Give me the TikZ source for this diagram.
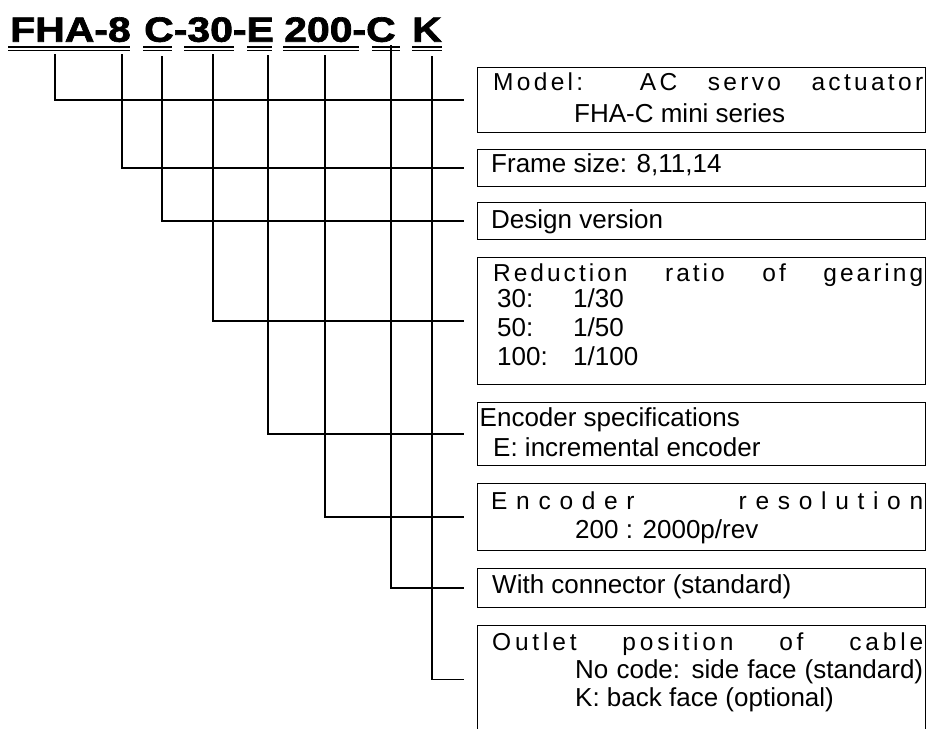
\documentclass[tikz,border=0pt]{standalone}
\usepackage{fontspec}
\setmainfont{Liberation Sans}
\newfontfamily\titlefont[FakeBold=1.8]{Liberation Sans}
\newcommand{\bodyfont}{\fontsize{26}{28.5}\selectfont}
\newdimen\lsk
\def\lsword#1{\lswordi#1\relax\unkern}
\def\lswordi#1{\ifx\relax#1\else#1\kern\lsk\expandafter\lswordi\fi}
\newcommand{\codetxt}[1]{\scalebox{1.17}[1]{\titlefont\bfseries\fontsize{35}{35}\selectfont #1}}
\begin{document}
\begin{tikzpicture}[x=1pt,y=-1pt,
  box/.style={draw=black,line width=1.2pt,fill=none,inner sep=0pt,anchor=north west,minimum width=448pt},
  txt/.style={inner sep=0pt,anchor=base west,font=\bodyfont},
  code/.style={inner sep=0pt,anchor=base west},
  conn/.style={line width=1.5pt,line cap=rect},
  ul/.style={line width=1.7pt}]
\useasboundingbox (0,0) rectangle (928,728);
\clip (0,0) rectangle (928,728);
\fill[white] (0,0) rectangle (928,728);

% title code
\node[code] (t1) at (10,41.7) {\codetxt{FHA-8}};
\node[code] (t2) at (144,41.7) {\codetxt{C-30-E}};
\node[code] (t3) at (284,41.7) {\codetxt{200-C}};
\node[code] (t4) at (412,41.7) {\codetxt{K}};
\foreach \a/\b in {8.3/130,143/172,184/234,247/272,283/359,372/400,412/442}{
  \draw[ul] (\a,47) -- (\b,47);
  \draw[ul] (\a,50.4) -- (\b,50.4);
}

% boxes
\node[box,minimum height=65pt] (b1) at (477,67) {};
\node[box,minimum height=37pt] (b2) at (477,149) {};
\node[box,minimum height=37pt] (b3) at (477,202) {};
\node[box,minimum height=127pt] (b4) at (477,257) {};
\node[box,minimum height=63pt] (b5) at (477,402) {};
\node[box,minimum height=67pt] (b6) at (477,483) {};
\node[box,minimum height=39pt] (b7) at (477,568) {};
\node[box,minimum height=108pt] (b8) at (477,625) {};

% texts
\node[txt] (m1) at (493,90) {\makebox[430pt][s]{\fontsize{24.5}{24.5}\selectfont\lsk=3.3pt
  \lsword{Model:} \lsword{AC} \lsword{servo} \lsword{actuator}}};
\node[txt] (m2) at (574,122.5) {FHA-C mini series};
\node[txt] (f1) at (491,172.7) {Frame size: 8,11,14};
\node[txt] (d1) at (491,228) {Design version};
\node[txt] (r1) at (493,281) {\makebox[430pt][s]{\fontsize{24.5}{24.5}\selectfont\lsk=3pt
  \lsword{Reduction} \lsword{ratio} \lsword{of} \lsword{gearing}}};
\node[txt] (r2) at (497,307) {30:};
\node[txt] (r2b) at (573,307) {1/30};
\node[txt] (r3) at (497,336) {50:};
\node[txt] (r3b) at (573,336) {1/50};
\node[txt] (r4) at (497,365) {100:};
\node[txt] (r4b) at (573,365) {1/100};
\node[txt] (e1) at (479.5,426.7) {Encoder specifications};
\node[txt] (e2) at (493,456.7) {E: incremental encoder};
\node[txt] (s1) at (491,509.5) {\makebox[432pt][s]{\fontsize{24.5}{24.5}\selectfont\lsk=8.7pt
  \lsword{Encoder} \lsword{resolution}}};
\node[txt] (s2) at (575,538) {200 : 2000p/rev};
\node[txt] (w1) at (492,593) {With connector (standard)};
\node[txt] (o1) at (492,650.7) {\makebox[431pt][s]{\fontsize{24.5}{24.5}\selectfont\lsk=3.8pt
  \lsword{Outlet} \lsword{position} \lsword{of} \lsword{cable}}};
\node[txt] (o2) at (575,678) {\makebox[348pt][s]{No code: side face (standard)}};
\node[txt] (o3) at (575,706) {K: back face (optional)};

% connectors
\coordinate (c1) at (55,55);
\coordinate (c2) at (122,55);
\coordinate (c3) at (162,57);
\coordinate (c4) at (213,55);
\coordinate (c5) at (268,56);
\coordinate (c6) at (325,56);
\coordinate (c7) at (391,46);
\coordinate (c8) at (432,57);
\draw[conn] (c1) |- ([xshift=-14pt]b1.west);
\draw[conn] (c2) |- ([xshift=-14pt]b2.west);
\draw[conn] (c3) |- ([xshift=-14pt]b3.west);
\draw[conn] (c4) |- ([xshift=-14pt]b4.west);
\draw[conn] (c5) |- ([xshift=-14pt]b5.west);
\draw[conn] (c6) |- ([xshift=-14pt]b6.west);
\draw[conn] (c7) |- ([xshift=-14pt]b7.west);
\draw[conn] (c8) |- ([xshift=-14pt]b8.west);
\end{tikzpicture}
\end{document}
